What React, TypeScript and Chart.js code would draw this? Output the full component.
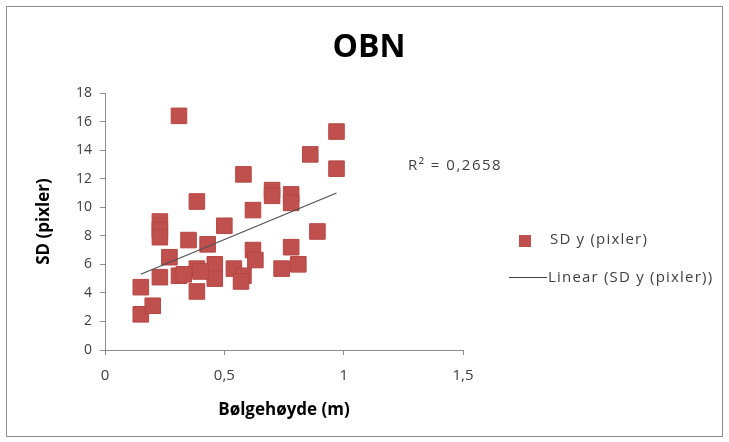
import { useEffect, useRef } from "react";
import { Chart, registerables } from "chart.js";

Chart.register(...registerables);

// ---- Data ----
const waveHeight = [
  0.31, 0.97, 0.86, 0.97, 0.58, 0.70, 0.70, 0.78, 0.78, 0.385,
  0.62, 0.23, 0.23, 0.23, 0.50, 0.89, 0.35, 0.43, 0.78, 0.62,
  0.63, 0.27, 0.385, 0.385, 0.46, 0.46, 0.54, 0.58, 0.57, 0.74,
  0.81, 0.23, 0.15, 0.15, 0.20, 0.31, 0.40, 0.33,
];
const sdY = [
  16.4, 15.3, 13.7, 12.7, 12.3, 11.2, 10.8, 10.9, 10.3, 10.4,
  9.8, 9.0, 8.4, 7.9, 8.7, 8.3, 7.7, 7.4, 7.2, 7.0,
  6.3, 6.5, 5.7, 4.1, 6.0, 5.0, 5.7, 5.2, 4.8, 5.7,
  6.0, 5.1, 4.4, 2.5, 3.1, 5.2, 5.5, 5.3,
];
const yTickValues = [0, 2, 4, 6, 8, 10, 12, 14, 16, 18];
const xTickValues = [0, 0.5, 1, 1.5];
const chartTitle = "OBN";
const xAxisTitle = "Bølgehøyde (m)";
const yAxisTitle = "SD (pixler)";
const seriesName = "SD y (pixler)";
const trendName = "Linear (SD y (pixler))";
const r2Label = "R² = 0,2658";

const FONT = "'Open Sans', Lato, 'Noto Sans', sans-serif";
const RED = "#C0504D";
const TEXT = "#404040";
const AXIS = "#8c8c8c";

function regression(xs: number[], ys: number[]) {
  const n = xs.length;
  const mx = xs.reduce((a, b) => a + b, 0) / n;
  const my = ys.reduce((a, b) => a + b, 0) / n;
  let sxy = 0;
  let sxx = 0;
  for (let i = 0; i < n; i++) {
    sxy += (xs[i] - mx) * (ys[i] - my);
    sxx += (xs[i] - mx) * (xs[i] - mx);
  }
  const slope = sxy / sxx;
  return { slope, intercept: my - slope * mx };
}

const decor = {
  id: "decor",
  beforeDraw(chart: any) {
    const ctx = chart.ctx;
    ctx.save();
    ctx.fillStyle = "#ffffff";
    ctx.fillRect(0, 0, chart.width, chart.height);
    ctx.strokeStyle = AXIS;
    ctx.lineWidth = 1;
    ctx.strokeRect(6.5, 6.5, 716, 430);
    ctx.restore();
  },
  afterDraw(chart: any) {
    const ctx = chart.ctx;
    ctx.save();
    ctx.textBaseline = "middle";
    // title
    ctx.fillStyle = "#000000";
    ctx.font = `bold 32px ${FONT}`;
    ctx.textAlign = "center";
    ctx.fillText(chartTitle, 369, 48);
    // R² label
    ctx.fillStyle = TEXT;
    ctx.font = `15px ${FONT}`;
    ctx.textAlign = "left";
    (ctx as any).letterSpacing = "1.5px";
    ctx.fillText(r2Label, 408, 166);
    // legend
    (ctx as any).letterSpacing = "1.2px";
    ctx.fillStyle = RED;
    ctx.fillRect(519, 235, 12, 12);
    ctx.fillStyle = TEXT;
    ctx.fillText(seriesName, 550, 240);
    ctx.strokeStyle = "#404040";
    ctx.lineWidth = 1;
    ctx.beginPath();
    ctx.moveTo(509, 277.5);
    ctx.lineTo(547, 277.5);
    ctx.stroke();
    ctx.fillText(trendName, 548, 278);
    ctx.restore();
  },
};

export default function App() {
  const ref = useRef<HTMLCanvasElement | null>(null);

  useEffect(() => {
    if (!ref.current) return;
    const points = waveHeight.map((x, i) => ({ x, y: sdY[i] }));
    const { slope, intercept } = regression(waveHeight, sdY);
    const xMin = Math.min(...waveHeight);
    const xMax = Math.max(...waveHeight);
    const trend = [
      { x: xMin, y: intercept + slope * xMin },
      { x: xMax, y: intercept + slope * xMax },
    ];

    const chart = new Chart(ref.current, {
      type: "scatter",
      data: {
        datasets: [
          {
            label: trendName,
            type: "line",
            data: trend,
            borderColor: "#505050",
            borderWidth: 1.2,
            pointRadius: 0,
            fill: false,
            order: 0,
          } as any,
          {
            label: seriesName,
            data: points,
            pointStyle: "rect",
            pointRadius: 11,
            backgroundColor: RED,
            borderColor: "#b44744",
            borderWidth: 1,
            order: 1,
          },
        ],
      },
      options: {
        responsive: false,
        animation: false,
        devicePixelRatio: 1,
        layout: { padding: { left: 0, top: 93, right: 266, bottom: 0 } },
        plugins: {
          legend: { display: false },
          title: { display: false },
          tooltip: { enabled: false },
        },
        scales: {
          x: {
            type: "linear",
            min: 0,
            max: 1.5,
            afterFit: (s: any) => {
              s.height = 92;
            },
            afterBuildTicks: (s: any) => {
              s.ticks = xTickValues.map((v) => ({ value: v }));
            },
            ticks: {
              color: TEXT,
              font: { family: FONT, size: 15 },
              padding: 12,
              callback: (v: any) => String(v).replace(".", ","),
            },
            grid: {
              drawOnChartArea: false,
              drawTicks: true,
              tickLength: 5,
              color: AXIS,
            },
            border: { display: true, color: AXIS },
            title: {
              display: true,
              text: xAxisTitle,
              color: "#000000",
              font: { family: FONT, size: 17, weight: "bold" },
              padding: { top: 0, bottom: 22 },
            },
          },
          y: {
            type: "linear",
            min: 0,
            max: 18,
            afterFit: (s: any) => {
              s.width = 105;
            },
            afterBuildTicks: (s: any) => {
              s.ticks = yTickValues.map((v) => ({ value: v }));
            },
            ticks: {
              color: TEXT,
              font: { family: FONT, size: 14 },
              padding: 8,
            },
            grid: {
              drawOnChartArea: false,
              drawTicks: true,
              tickLength: 5,
              color: AXIS,
            },
            border: { display: true, color: AXIS },
            title: {
              display: true,
              text: yAxisTitle,
              color: "#000000",
              font: { family: FONT, size: 17, weight: "bold" },
              padding: { top: 34, bottom: 0 },
            },
          },
        },
      },
      plugins: [decor],
    });
    return () => chart.destroy();
  }, []);

  return (
    <canvas
      ref={ref}
      width={729}
      height={442}
      style={{ position: "fixed", left: 0, top: 0, width: 729, height: 442 }}
    />
  );
}
